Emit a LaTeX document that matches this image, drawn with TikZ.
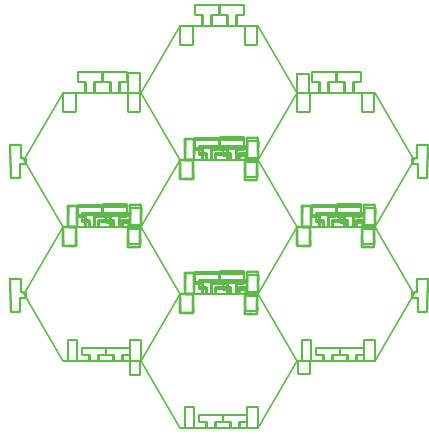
\documentclass[tikz,border=0pt]{standalone}
\usepackage{tikz}
\usetikzlibrary{calc}
\definecolor{leaf}{HTML}{5DBA48}
\tikzset{
  hexline/.style={draw=leaf, line width=1.5pt, line cap=round},
  glyph/.style={draw=leaf, line width=2.3pt, line join=round},
  pics/tee/.style args={#1/#2}{code={
    \draw[glyph] (-4.5,0) -- (-4.5,#1-#2) -- (-12,#1-#2) -- (-12,#1)
                 -- (12,#1) -- (12,#1-#2) -- (4.5,#1-#2) -- (4.5,0);}},
  pics/notch/.style={code={
    \draw[glyph] (-14,15) -- (-3,15) -- (-3,2) -- (2,1) -- (2,-4) -- (-4,-4)
                 -- (-4,-18) -- (-13,-18) -- cycle;}}
}
% posts hanging under the edge, tees standing on it
\newcommand{\topglyphs}[2][0]{%
  \begin{scope}[shift={(#2)}, rotate=#1]
    \draw[glyph] (0,0) rectangle (13,-19);
    \draw[glyph] (65,0) rectangle (77,-19);
    \pic at (27,0) {tee=21/10};
    \pic at (52,0) {tee=21/10};
  \end{scope}}
% posts and short tees both standing on the edge
\newcommand{\lowglyphs}[2][0]{%
  \begin{scope}[shift={(#2)}, rotate=#1]
    \draw[glyph] (5,0) rectangle (14,21);
    \draw[glyph] (67,0) rectangle (78,21);
    \pic at (31,0) {tee=13/7};
    \pic at (55,0) {tee=13/7};
  \end{scope}}

\begin{document}
\begin{tikzpicture}[x=1pt, y=1pt]
  \useasboundingbox (0,0) rectangle (428,436);

  % hexagon corners, row by row from the top
  \coordinate (c0l) at (180,410); \coordinate (c0r) at (258,410);
  \coordinate (l1l) at (63,343);  \coordinate (l1r) at (141,343);
  \coordinate (r1l) at (297,343); \coordinate (r1r) at (375,343);
  \coordinate (lv2) at (24,276);  \coordinate (c2l) at (180,276);
  \coordinate (c2r) at (258,276); \coordinate (rv2) at (414,276);
  \coordinate (l3l) at (63,209);  \coordinate (l3r) at (141,209);
  \coordinate (r3l) at (297,209); \coordinate (r3r) at (375,209);
  \coordinate (lv4) at (24,142);  \coordinate (c4l) at (180,142);
  \coordinate (c4r) at (258,142); \coordinate (rv4) at (414,142);
  \coordinate (l5l) at (63,75);   \coordinate (l5r) at (141,75);
  \coordinate (r5l) at (297,75);  \coordinate (r5r) at (375,75);
  \coordinate (c6l) at (180,8);   \coordinate (c6r) at (258,8);

  \foreach \a/\b in {c0l/c0r, l1l/l1r, r1l/r1r, c2l/c2r, l3l/l3r, r3l/r3r,
                     c4l/c4r, l5l/l5r, r5l/r5r, c6l/c6r,
                     c0l/l1r, c0r/r1l, l1l/lv2, l1r/c2l, r1l/c2r, r1r/rv2,
                     lv2/l3l, c2l/l3r, c2r/r3l, rv2/r3r,
                     l3l/lv4, l3r/c4l, r3l/c4r, r3r/rv4,
                     lv4/l5l, c4l/l5r, c4r/r5l, rv4/r5r, l5r/c6l, r5l/c6r}
    \draw[hexline] (\a) -- (\b);

  % single edges
  \topglyphs{c0l}
  \topglyphs{l1l}
  \draw[glyph] ($(l1l)+(65,0)$) rectangle ++(12,20);
  \topglyphs{r1l}
  \draw[glyph] (r1l) rectangle ++(12,19);
  \lowglyphs{l5l}
  \draw[glyph] ($(l5l)+(67,0)$) rectangle ++(10,-14);
  \lowglyphs{r5l}
  \draw[glyph] ($(r5l)+(1,0)$) rectangle ++(12,-13);
  \lowglyphs{c6l}

  % shared edges, drawn over twice
  \foreach \e in {c2l, l3l, r3l, c4l} {
    \topglyphs[1.5]{\e}
    \begin{scope}[xshift=2, yshift=-1]
      \topglyphs[-1]{\e}
    \end{scope}
    \begin{scope}[xshift=-1]
      \lowglyphs[1]{\e}
    \end{scope}
    \begin{scope}[xshift=1, yshift=1]
      \lowglyphs[-1.5]{\e}
    \end{scope}
  }

  % outer corners
  \pic at (lv2) {notch};
  \pic at (lv4) {notch};
  \pic[xscale=-1] at (rv2) {notch};
  \pic[xscale=-1] at (rv4) {notch};
\end{tikzpicture}
\end{document}
